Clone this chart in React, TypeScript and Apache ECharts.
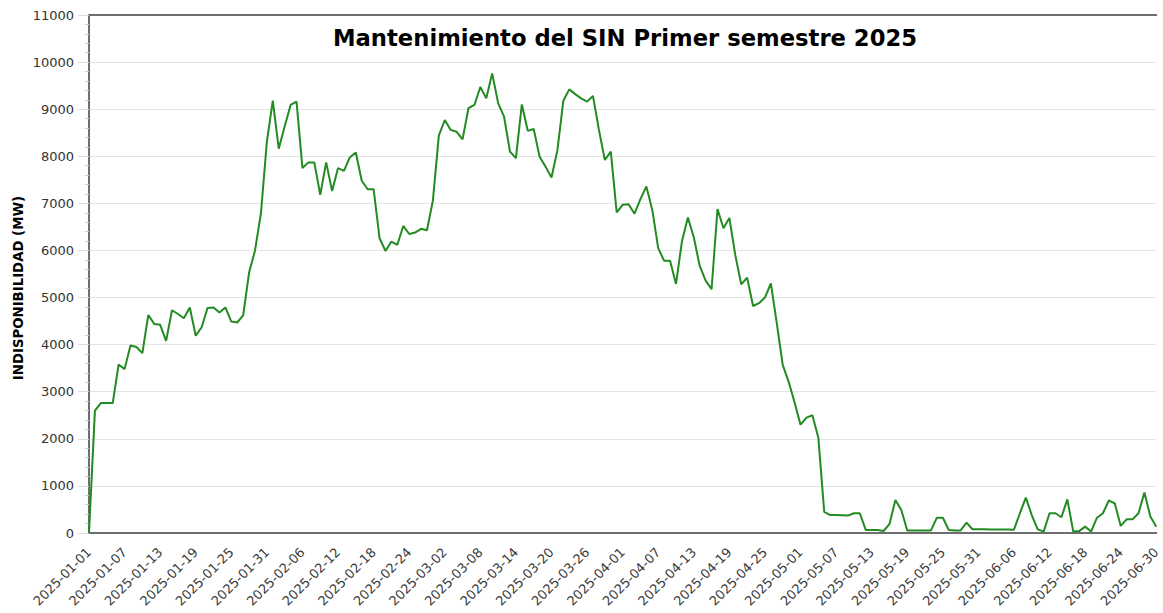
import React, { useEffect, useRef } from "react";
import * as echarts from "echarts";

const startDate = "2025-01-01";
const dayCount = 181;

const values: number[] = [
  0, 2600, 2760, 2760, 2760, 3580, 3480, 3980, 3950, 3820,
  4630, 4440, 4420, 4080, 4730, 4650, 4560, 4790, 4190, 4370,
  4780, 4790, 4680, 4790, 4490, 4470, 4620, 5530, 6000, 6790,
  8310, 9180, 8160, 8630, 9090, 9160, 7750, 7870, 7870, 7180,
  7870, 7260, 7750, 7690, 7980, 8080, 7480, 7300, 7300, 6260,
  5990, 6190, 6120, 6520, 6350, 6380, 6460, 6430, 7060, 8440,
  8770, 8560, 8520, 8360, 9020, 9090, 9470, 9230, 9760, 9130,
  8840, 8100, 7960, 9100, 8540, 8580, 7990, 7780, 7550, 8130,
  9180, 9420, 9320, 9230, 9160, 9280, 8560, 7920, 8100, 6810,
  6970, 6980, 6780, 7090, 7360, 6860, 6050, 5780, 5780, 5290,
  6190, 6700, 6280, 5670, 5360, 5180, 6880, 6470, 6690, 5900,
  5280, 5420, 4820, 4880, 5000, 5300, 4450, 3570, 3210, 2770,
  2300, 2450, 2500, 2030, 450, 380, 380, 375, 370, 420,
  420, 65, 65, 65, 42, 190, 700, 490, 55, 55,
  55, 55, 55, 325, 325, 64, 55, 55, 220, 80,
  78, 78, 76, 75, 73, 72, 70, 420, 750, 380,
  78, 30, 420, 420, 335, 715, 30, 40, 135, 30,
  325, 420, 690, 630, 150, 290, 290, 420, 860, 350,
  135,
];

const titleText = "Mantenimiento del SIN Primer semestre 2025";
const yAxisTitle = "INDISPONIBILIDAD (MW)";
const yMin = 0;
const yMax = 11000;
const yInterval = 1000;

function buildDates(start: string, n: number): string[] {
  const out: string[] = [];
  const base = new Date(start + "T00:00:00Z").getTime();
  for (let i = 0; i < n; i++) {
    const d = new Date(base + i * 86400000);
    out.push(d.toISOString().slice(0, 10));
  }
  return out;
}

const categories = buildDates(startDate, dayCount);

export default function App() {
  const ref = useRef<HTMLDivElement>(null);
  useEffect(() => {
    if (!ref.current) return;
    const chart = echarts.init(ref.current, undefined, { renderer: "svg" });
    const font = "DejaVu Sans";
    chart.setOption({
      animation: false,
      backgroundColor: "#ffffff",
      textStyle: { fontFamily: font },
      title: {
        text: titleText,
        left: 620,
        top: 21,
        textAlign: "center",
        textStyle: { fontFamily: font, fontSize: 22.7, fontWeight: "bold", color: "#000" },
      },
      grid: { left: 89, width: 1076, top: 15, height: 518, containLabel: false },
      xAxis: [
        {
          type: "category",
          data: categories,
          boundaryGap: false,
          axisLine: { show: true, lineStyle: { color: "#6e6e6e", width: 2 } },
          axisTick: { show: false },
          axisLabel: {
            interval: 5,
            rotate: 45,
            fontSize: 13,
            fontFamily: font,
            color: "#3a3a3a",
            margin: 17,
          },
          splitLine: { show: false },
        },
        {
          type: "category",
          data: categories,
          boundaryGap: false,
          position: "top",
          axisLine: { show: true, lineStyle: { color: "#6e6e6e", width: 2 } },
          axisTick: { show: false },
          axisLabel: { show: false },
          splitLine: { show: false },
        },
      ],
      yAxis: {
        type: "value",
        min: yMin,
        max: yMax,
        interval: yInterval,
        axisLine: { show: true, lineStyle: { color: "#6e6e6e", width: 2 } },
        axisTick: { show: true, length: 11, lineStyle: { color: "#dcdcdc" } },
        minorTick: { show: true, splitNumber: 5, length: 4, lineStyle: { color: "#cfcfcf" } },
        axisLabel: {
          fontSize: 13,
          fontFamily: font,
          color: "#333",
          margin: 15,
          formatter: (v: number) => String(v),
        },
        splitLine: { show: true, lineStyle: { color: "#e4e4e4", width: 1 } },
      },
      graphic: [
        {
          type: "text",
          x: 18,
          y: 288,
          rotation: Math.PI / 2,
          style: {
            text: yAxisTitle,
            fontFamily: font,
            fontSize: 13.3,
            fontWeight: "bold",
            fill: "#000",
            align: "center",
            verticalAlign: "middle",
          },
        },
      ],
      series: [
        {
          type: "line",
          data: values,
          xAxisIndex: 0,
          symbol: "none",
          lineStyle: { color: "#228b22", width: 2 },
        },
      ],
    });
    return () => chart.dispose();
  }, []);
  return (
    <div
      ref={ref}
      style={{ position: "fixed", left: 0, top: 0, width: 1163, height: 613 }}
    />
  );
}
